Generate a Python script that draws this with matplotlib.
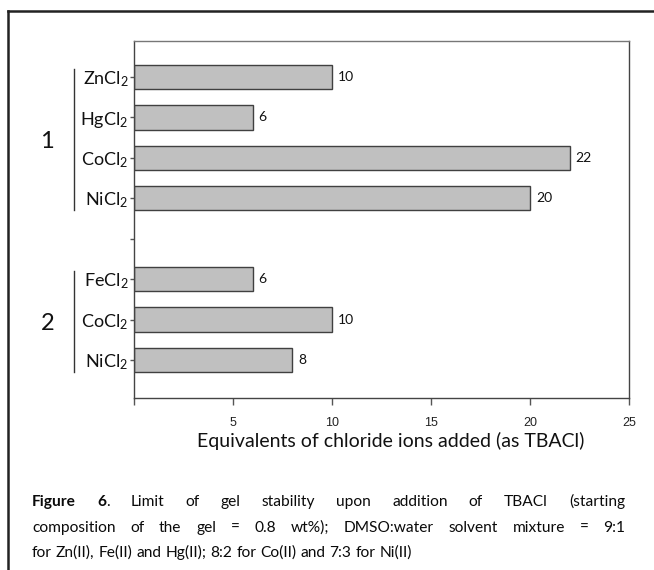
import matplotlib
matplotlib.use("Agg")
import matplotlib.pyplot as plt
from matplotlib.lines import Line2D
import matplotlib.transforms as mtransforms

# Data
group_names = ["1", "2"]
group_salts = [
    ["ZnCl$_2$", "HgCl$_2$", "CoCl$_2$", "NiCl$_2$"],
    ["FeCl$_2$", "CoCl$_2$", "NiCl$_2$"],
]
group_values = [
    [10, 6, 22, 20],
    [6, 10, 8],
]
x_ticks = [0, 5, 10, 15, 20, 25]
x_tick_labels = ["", "5", "10", "15", "20", "25"]
x_label = "Equivalents of chloride ions added (as TBACl)"

caption_lines = [
    [[("Figure", "bold")], [("6", "bold"), (".", "normal")], "Limit", "of", "gel",
     "stability", "upon", "addition", "of", "TBACl", "(starting"],
    "composition of the gel = 0.8 wt%); DMSO:water solvent mixture = 9:1".split(),
    "for Zn(II), Fe(II) and Hg(II); 8:2 for Co(II) and 7:3 for Ni(II)".split(),
]

FONT = "Lato"
plt.rcParams["font.family"] = [FONT, "DejaVu Sans"]
plt.rcParams["mathtext.fontset"] = "custom"
plt.rcParams["mathtext.rm"] = FONT
plt.rcParams["mathtext.it"] = FONT + ":italic"
plt.rcParams["mathtext.bf"] = FONT + ":bold"

W, H = 654, 570
fig = plt.figure(figsize=(W / 100, H / 100), dpi=100)
ax = fig.add_axes([134 / W, 1 - 398 / H, (629 - 134) / W, (398 - 41) / H])

# rows: groups separated by one empty row
labels, values, rows, group_spans = [], [], [], []
r = 0
for salts, vals in zip(group_salts, group_values):
    start = r
    for s, v in zip(salts, vals):
        labels.append(s)
        values.append(v)
        rows.append(r)
        r += 1
    group_spans.append((start, r - 1))
    r += 1
gap_rows = [span[1] + 1 for span in group_spans[:-1]]

ax.barh(rows, values, height=0.6, color="#c0c0c0", edgecolor="#404040", linewidth=1.0, zorder=2)
for y, v in zip(rows, values):
    ax.text(v + 0.3, y, str(v), va="center", ha="left", fontsize=10, color="#111111")

ax.set_xlim(0, 25)
ax.set_ylim(7.94, -0.89)
ax.set_xticks(x_ticks)
ax.set_xticklabels(x_tick_labels, family="Liberation Sans", fontsize=9, color="#222222")
ax.set_yticks(rows + gap_rows)
ax.set_yticklabels(labels + [""] * len(gap_rows), fontsize=13, color="#111111")
ax.tick_params(axis="x", direction="out", length=5, width=1, color="#555555", pad=9)
ax.tick_params(axis="y", direction="out", length=3, width=1, color="#555555", pad=1)
ax.set_xlabel(x_label, fontsize=14, color="#111111")
ax.xaxis.set_label_coords(0.519, -0.096)
for side in ["left", "right", "bottom"]:
    ax.spines[side].set_color("#444444")
    ax.spines[side].set_linewidth(1.0)
ax.spines["top"].set_color("#777777")
ax.spines["top"].set_linewidth(1.0)

# group brackets and numbers
trans = mtransforms.blended_transform_factory(ax.transAxes, ax.transData)
for name, (a, b) in zip(group_names, group_spans):
    ax.add_line(Line2D([-0.121, -0.121], [a - 0.2, b + 0.3], transform=trans,
                       color="#333333", lw=1.0, clip_on=False))
    ax.text(-0.175, (a + b) / 2 + 0.1, name, transform=trans, ha="center", va="center",
            fontsize=17, color="#111111")

# outer frame (top and left)
fig.add_artist(Line2D([8 / W, 1], [1 - 11 / H, 1 - 11 / H], transform=fig.transFigure,
                      color="#222222", lw=1.8))
fig.add_artist(Line2D([8 / W, 8 / W], [0, 1 - 11 / H], transform=fig.transFigure,
                      color="#222222", lw=1.8))

# caption, justified
renderer = fig.canvas.get_renderer()
cap_size = 11.2


def text_width(s, weight):
    t = fig.text(0, 0, s, fontsize=cap_size, fontweight=weight)
    w = t.get_window_extent(renderer).width
    t.remove()
    return w


space_w = text_width("a a", "normal") - text_width("aa", "normal")
x_left, x_right = 32, 625
baselines = [506, 532, 557]
for i, (line, base) in enumerate(zip(caption_lines, baselines)):
    words = [w if isinstance(w, list) else [(w, "normal")] for w in line]
    widths = [sum(text_width(s, wt) for s, wt in word) for word in words]
    total = sum(widths)
    justify = i < len(caption_lines) - 1
    gap = (x_right - x_left - total) / (len(words) - 1) if justify else space_w
    x = x_left
    for word, ww in zip(words, widths):
        xx = x
        for s, wt in word:
            fig.text(xx / W, 1 - base / H, s, fontsize=cap_size, fontweight=wt,
                     ha="left", va="baseline", color="#0a0a0a")
            xx += text_width(s, wt)
        x += ww + gap

fig.savefig("out.png", dpi=100)
